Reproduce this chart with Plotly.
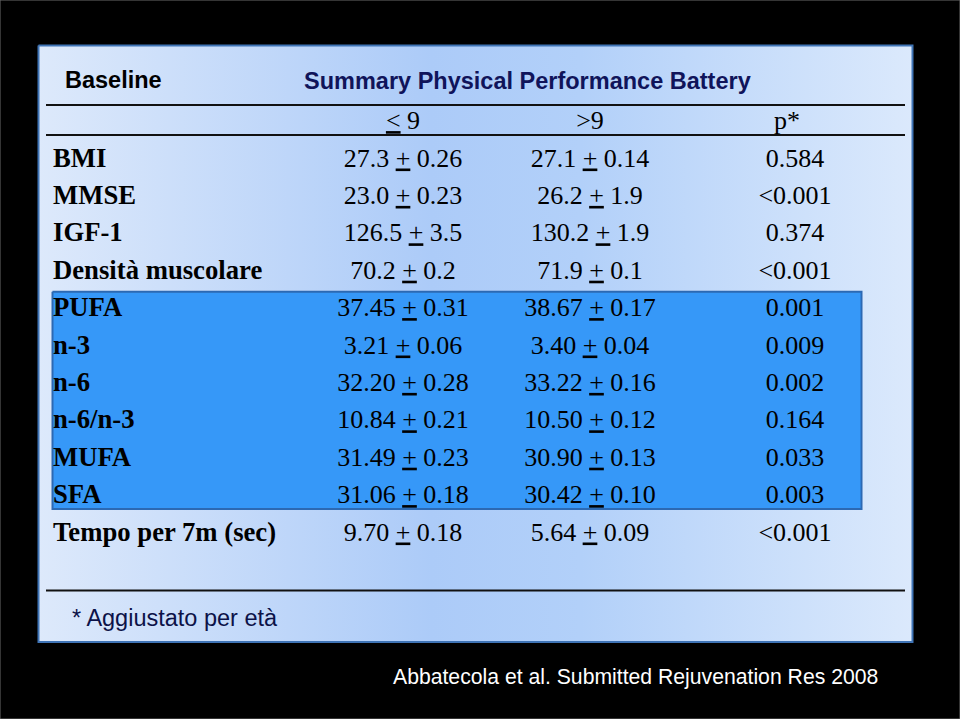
import plotly.graph_objects as go

# ---------------- data ----------------
variables = ["BMI", "MMSE", "IGF-1", "Densità muscolare", "PUFA", "n-3", "n-6",
             "n-6/n-3", "MUFA", "SFA", "Tempo per 7m (sec)"]
mean_lt9 = ["27.3", "23.0", "126.5", "70.2", "37.45", "3.21", "32.20", "10.84",
            "31.49", "31.06", "9.70"]
se_lt9 = ["0.26", "0.23", "3.5", "0.2", "0.31", "0.06", "0.28", "0.21",
          "0.23", "0.18", "0.18"]
mean_gt9 = ["27.1", "26.2", "130.2", "71.9", "38.67", "3.40", "33.22", "10.50",
            "30.90", "30.42", "5.64"]
se_gt9 = ["0.14", "1.9", "1.9", "0.1", "0.17", "0.04", "0.16", "0.12",
          "0.13", "0.10", "0.09"]
p_values = ["0.584", "<0.001", "0.374", "<0.001", "0.001", "0.009", "0.002",
            "0.164", "0.033", "0.003", "<0.001"]
highlighted = ["PUFA", "n-3", "n-6", "n-6/n-3", "MUFA", "SFA"]

title_left = "Baseline"
title_main = "Summary Physical Performance Battery"
footnote = "* Aggiustato per età"
citation = "Abbatecola et al. Submitted Rejuvenation Res 2008"

# ---------------- layout constants ----------------
W, H = 960, 719
ROW0, ROWH = 160.0, 37.4          # pixel centre of first row, row pitch


def py(p):
    """pixel row -> row units of the y axis"""
    return (p - ROW0) / ROWH


SERIF = "Liberation Serif"
SANS = "Liberation Sans"
X_LABEL, X_LT9, X_GT9, X_P = 53, 403, 590, 795


def esc(s):
    return s.replace("<", "&lt;").replace(">", "&gt;")


rows = list(range(len(variables)))

fig = go.Figure()

# panel with gradient
px0, px1, pt, pb = 38.5, 912.5, 45.5, 642
fig.add_trace(go.Scatter(
    x=[px0, px1, px1, px0, px0],
    y=[py(pt), py(pt), py(pb), py(pb), py(pt)],
    mode="lines", fill="toself",
    fillgradient=dict(type="horizontal",
                      colorscale=[[0, "#dde9fb"], [0.45, "#accbf8"],
                                  [0.62, "#b2d0f9"], [1, "#dbe9fc"]]),
    line=dict(color="#3f74b6", width=2),
    hoverinfo="skip"))

# highlight box for the fatty-acid rows
i0 = variables.index(highlighted[0])
i1 = variables.index(highlighted[-1])
hx0, hx1 = 52.5, 861.5
hy0, hy1 = i0 - 0.48, i1 + 0.33
fig.add_trace(go.Scatter(
    x=[hx0, hx1, hx1, hx0, hx0],
    y=[hy0, hy0, hy1, hy1, hy0],
    mode="lines", fill="toself", fillcolor="#3698f8",
    line=dict(color="#2c69b3", width=2),
    hoverinfo="skip"))

# labels column
fig.add_trace(go.Scatter(
    x=[X_LABEL] * len(rows), y=rows, mode="text",
    text=[esc(v) for v in variables], textposition="middle right",
    textfont=dict(family=SERIF, size=26.7, color="black", weight="bold"),
    hoverinfo="skip"))

# value columns
for xc, means, ses in [(X_LT9, mean_lt9, se_lt9), (X_GT9, mean_gt9, se_gt9)]:
    fig.add_trace(go.Scatter(
        x=[xc] * len(rows), y=rows, mode="text",
        text=[f"{m} <u>+</u> {s}" for m, s in zip(means, ses)],
        textposition="middle center",
        textfont=dict(family=SERIF, size=26, color="black"),
        hoverinfo="skip"))

fig.add_trace(go.Scatter(
    x=[X_P] * len(rows), y=rows, mode="text",
    text=[esc(p) for p in p_values], textposition="middle center",
    textfont=dict(family=SERIF, size=26, color="black"),
    hoverinfo="skip"))

# column headers (row -1)
fig.add_trace(go.Scatter(
    x=[X_LT9, X_GT9, X_P - 8], y=[-1, -1, -1], mode="text",
    text=["<u>&lt;</u> 9", "&gt;9", "p*"], textposition="middle center",
    textfont=dict(family=SERIF, size=26, color="black"),
    hoverinfo="skip"))

# rules
shapes = []
for yp in (105, 135, 590.5):
    shapes.append(dict(type="line", xref="x", yref="y", x0=46, x1=905,
                       y0=py(yp), y1=py(yp), line=dict(color="#111111", width=2)))
shapes.append(dict(type="rect", xref="paper", yref="paper", x0=0, x1=1, y0=0, y1=1,
                   line=dict(color="#6a6a6a", width=1)))

annotations = [
    dict(x=63, y=py(80), xref="x", yref="y", text=f"<b>{title_left}</b>",
         showarrow=False, xanchor="left", yanchor="middle",
         font=dict(family=SANS, size=23.5, color="black")),
    dict(x=302, y=py(81), xref="x", yref="y", text=f"<b>{title_main}</b>",
         showarrow=False, xanchor="left", yanchor="middle",
         font=dict(family=SANS, size=23.5, color="#10145a")),
    dict(x=70, y=py(618), xref="x", yref="y", text=esc(footnote),
         showarrow=False, xanchor="left", yanchor="middle",
         font=dict(family=SANS, size=23.5, color="#0c1248")),
    dict(x=391, y=py(677), xref="x", yref="y", text=citation,
         showarrow=False, xanchor="left", yanchor="middle",
         font=dict(family=SANS, size=21.2, color="white")),
]

fig.update_layout(
    width=W, height=H, margin=dict(l=0, r=0, t=0, b=0, pad=0),
    paper_bgcolor="black", plot_bgcolor="black", showlegend=False,
    xaxis=dict(range=[0, W], visible=False, fixedrange=True),
    yaxis=dict(range=[py(H), py(0)], visible=False, fixedrange=True),
    shapes=shapes, annotations=annotations,
)

fig.write_html("out.html", config={"displayModeBar": False},
               post_script="document.body.style.margin='0px';"
                           "document.body.style.background='black';")
